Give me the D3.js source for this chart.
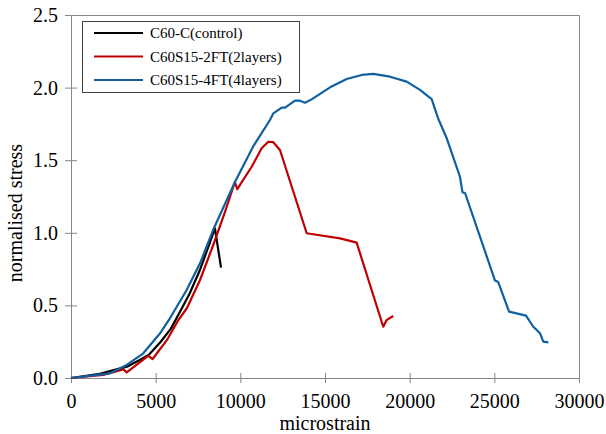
<!DOCTYPE html>
<html>
<head>
<meta charset="utf-8">
<script src="https://cdn.jsdelivr.net/npm/d3@7"></script>
<style>
  body { margin: 0; background: #fff; }
</style>
</head>
<body>
<svg id="chart" width="606" height="434"></svg>
<script>
// series names as in the legend
let seriesNames = ["C60-C(control)", "C60S15-2FT(2layers)", "C60S15-4FT(4layers)"];
let seriesColors = ["#000000", "#c00000", "#1060a0"];

// [microstrain, normalised stress]
let control = [
    [0, 0], [1700, 0.028], [3300, 0.078], [4000, 0.12], [4600, 0.16], [5300, 0.25],
    [5900, 0.34], [6500, 0.47], [7000, 0.58], [7600, 0.74], [8100, 0.90], [8500, 1.03],
    [8860, 0.76]
];
let twoLayers = [
    [0, 0], [1900, 0.021], [3090, 0.059], [3290, 0.039], [4560, 0.152], [4820, 0.131],
    [5670, 0.262], [6340, 0.399], [6850, 0.482], [7620, 0.675], [8400, 0.916],
    [9090, 1.143], [9680, 1.35], [9820, 1.30], [9980, 1.33], [10670, 1.455],
    [11260, 1.582], [11650, 1.627], [11930, 1.625], [12340, 1.57], [13920, 0.997],
    [15890, 0.962], [16870, 0.932], [18440, 0.353], [18640, 0.399], [19030, 0.427]
];
let fourLayers = [
    [0, 0], [2300, 0.032], [3290, 0.09], [4270, 0.17], [5260, 0.308], [5850, 0.413],
    [6830, 0.606], [7620, 0.79], [8390, 1.019], [9690, 1.352], [10750, 1.593],
    [11750, 1.777], [11950, 1.823], [12440, 1.862], [12640, 1.862], [13230, 1.91],
    [13520, 1.91], [13820, 1.896], [14210, 1.919], [15300, 2.002], [16280, 2.059],
    [17170, 2.087], [17850, 2.094], [18840, 2.075], [19820, 2.041], [20610, 1.984],
    [21300, 1.921], [21670, 1.791], [22190, 1.651], [22970, 1.386], [23120, 1.278],
    [23270, 1.274], [25040, 0.671], [25230, 0.661], [25870, 0.457], [26870, 0.43],
    [27300, 0.353], [27700, 0.308], [27890, 0.25], [28190, 0.245]
];
let xTicks = [0, 5000, 10000, 15000, 20000, 25000, 30000];
let yTicks = [0, 0.5, 1, 1.5, 2, 2.5];

let allSeries = [control, twoLayers, fourLayers];

let font = "'Liberation Serif', 'Times New Roman', Times, serif";

let svg = d3.select("#chart");
let plotLeft = 71, plotRight = 579, plotTop = 15, plotBottom = 378; // plot area

let xScale = d3.scaleLinear().domain([0, 30000]).range([plotLeft, plotRight]);
let yScale = d3.scaleLinear().domain([0, 2.5]).range([plotBottom, plotTop]);

let axisColor = "#868686";

// plot area border (top and right)
svg.append("path")
    .attr("d", "M" + plotLeft + "," + (plotTop + 0.5) + "H" + (plotRight + 0.5) + "V" + plotBottom)
    .attr("fill", "none")
    .attr("stroke", axisColor)
    .attr("stroke-width", 1);

let xAxis = d3.axisBottom(xScale).tickValues(xTicks).tickSizeInner(5).tickSizeOuter(0)
    .tickFormat(d3.format("d"));
let yAxis = d3.axisLeft(yScale).tickValues(yTicks).tickSizeInner(5).tickSizeOuter(0)
    .tickFormat(d3.format(".1f"));

let gx = svg.append("g").attr("transform", "translate(0," + plotBottom + ")").call(xAxis);
let gy = svg.append("g").attr("transform", "translate(" + plotLeft + ",0)").call(yAxis);

// ticks cross the axis line
gx.selectAll(".tick line").attr("y1", -5).attr("y2", 5);
gy.selectAll(".tick line").attr("x1", -6).attr("x2", 6);

[gx, gy].forEach(function(g) {
    g.select(".domain").attr("stroke", axisColor);
    g.selectAll(".tick line").attr("stroke", axisColor);
    g.selectAll(".tick text").attr("fill", "#000").style("font-size", "20px");
});
gx.selectAll(".tick text").attr("y", 16);
gy.selectAll(".tick text").attr("x", -13);

// axis titles
svg.append("text")
    .attr("x", (plotLeft + plotRight) / 2)
    .attr("y", 430)
    .attr("text-anchor", "middle")
    .style("font-size", "20px")
    .text("microstrain");

svg.append("text")
    .attr("transform", "translate(22,213) rotate(-90)")
    .attr("text-anchor", "middle")
    .style("font-size", "20px")
    .text("normalised stress");

// curves
let line = d3.line()
    .x(d => xScale(d[0]))
    .y(d => yScale(d[1]));

svg.selectAll(".curve")
    .data(allSeries)
    .enter()
    .append("path")
    .attr("class", "curve")
    .attr("d", d => line(d))
    .attr("fill", "none")
    .attr("stroke", (d, i) => seriesColors[i])
    .attr("stroke-width", 2.2)
    .attr("stroke-linejoin", "round");

// legend
let legend = svg.append("g");
legend.append("rect")
    .attr("x", 82.5).attr("y", 21.5)
    .attr("width", 217).attr("height", 71)
    .attr("fill", "#fff")
    .attr("stroke", "#404040")
    .attr("stroke-width", 1);

seriesNames.forEach(function(name, i) {
    let y = 33 + i * 23.5;
    legend.append("line")
        .attr("x1", 94).attr("x2", 143)
        .attr("y1", y).attr("y2", y)
        .attr("stroke", seriesColors[i])
        .attr("stroke-width", 2.2);
    legend.append("text")
        .attr("x", 150).attr("y", y + 5)
        .style("font-size", "15px")
        .text(name);
});

// one serif face for every label
svg.selectAll("text").style("font-family", font).attr("fill", "#000");
</script>
</body>
</html>
